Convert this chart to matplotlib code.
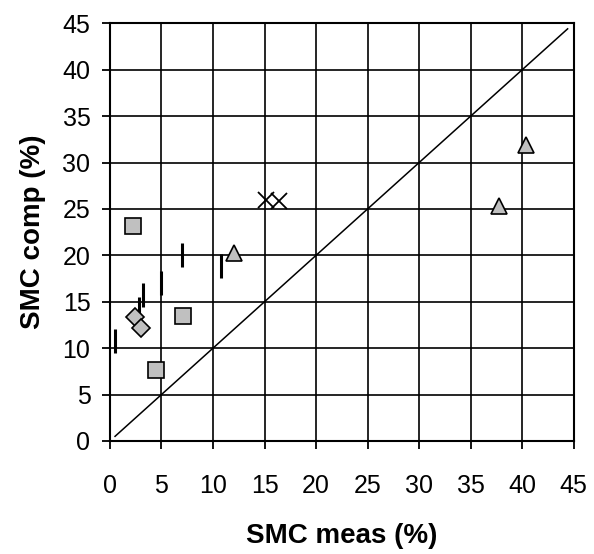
import matplotlib as mpl
import matplotlib.pyplot as plt

mpl.rc('font', family='Liberation Sans', size=18)

# measured vs computed soil moisture content (%)
sq_meas = [2.2, 7.1, 4.5]
sq_comp = [23.2, 13.5, 7.7]

dia_meas = [2.4, 3.0]
dia_comp = [13.4, 12.2]

tri_meas = [12.0, 37.7, 40.4]
tri_comp = [20.2, 25.3, 31.9]

x_meas = [15.1, 16.4]
x_comp = [26.0, 25.8]

dash_meas = [0.5, 2.8, 3.2, 4.95, 7.0, 10.8]
dash_comp = [10.8, 14.2, 15.7, 17.0, 20.0, 18.9]

line_1to1 = [0.5, 44.4]

ticks = list(range(0, 50, 5))

fig = plt.figure(figsize=(5.94, 5.54), dpi=100)
ax = fig.add_axes([0.185, 0.204, 0.781, 0.754])

ax.plot(line_1to1, line_1to1, color='black', lw=1.1, zorder=2)

ax.plot(dash_meas, dash_comp, ls='none', marker='|', ms=17, mew=2.2,
        color='black', zorder=3)
ax.plot(sq_meas, sq_comp, ls='none', marker='s', ms=11, mfc='#c0c0c0',
        mec='black', mew=1.2, zorder=4)
ax.plot(dia_meas, dia_comp, ls='none', marker='D', ms=9, mfc='#c0c0c0',
        mec='black', mew=1.2, zorder=4)
ax.plot(tri_meas, tri_comp, ls='none', marker='^', ms=11, mfc='#c0c0c0',
        mec='black', mew=1.2, zorder=4)
ax.plot(x_meas, x_comp, ls='none', marker='x', ms=12, mew=1.3,
        color='black', zorder=4)

ax.set_xlim(0, 45)
ax.set_ylim(0, 45)
ax.set_xticks(ticks)
ax.set_yticks(ticks)
ax.grid(True, color='black', lw=1.2)
ax.set_axisbelow(True)
for s in ax.spines.values():
    s.set_linewidth(1.5)
ax.tick_params(direction='out', length=6, width=1.3, labelsize=18)
ax.tick_params(axis='y', pad=8)
ax.tick_params(axis='x', pad=18)

ax.set_xlabel('SMC meas (%)', fontweight='bold', fontsize=20, labelpad=18)
ax.set_ylabel('SMC comp (%)', fontweight='bold', fontsize=20, labelpad=12)

fig.savefig('out.png', dpi=100)
